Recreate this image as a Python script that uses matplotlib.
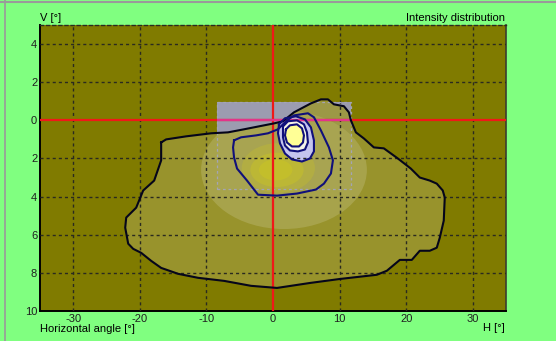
import matplotlib
matplotlib.use("Agg")
import matplotlib.pyplot as plt
from matplotlib.patches import Polygon, Rectangle, Ellipse
from matplotlib.lines import Line2D

# --- axis ticks ---------------------------------------------------------
h_ticks = [-30, -20, -10, 0, 10, 20, 30]
h_tick_labels = ["-30", "-20", "-10", "0", "10", "20", "30"]
v_ticks = [4, 2, 0, -2, -4, -6, -8, -10]
v_tick_labels = ["4", "2", "0", "2", "4", "6", "8", "10"]

# --- isolines (H [deg], V [deg]) ---------------------------------------
outer_h = [-16.8, -16.05, -13.05, -9.3, -6.75, -4.35, 0.15, 1.5, 3.15, 5.7, 7.2, 8.25,
           9.15, 10.65, 11.4, 11.7, 12.45, 13.65, 15.15, 16.65, 18.75, 20.7, 22.05,
           23.55, 24.6, 25.5, 25.8, 25.65, 25.05, 24.6, 23.55, 22.05, 20.85, 19.05,
           17.1, 15.6, 10.05, 5.55, 0.6, -3.3, -7.35, -11.25, -14.25, -16.8, -18.3,
           -19.8, -21.0, -21.75, -22.2, -22.05, -20.55, -19.5, -17.85, -16.8, -16.8]
outer_v = [-1.16, -1.0, -0.84, -0.68, -0.63, -0.47, -0.16, -0.05, 0.42, 0.89, 1.1, 1.1,
           0.84, 0.74, 0.42, 0.0, -0.63, -0.95, -1.42, -1.47, -2.0, -2.53, -3.0,
           -3.16, -3.32, -3.68, -4.05, -5.26, -6.16, -6.68, -6.84, -6.84, -7.32, -7.32,
           -7.89, -8.1, -8.32, -8.53, -8.79, -8.68, -8.42, -8.26, -8.05, -7.74, -7.37,
           -6.95, -6.74, -6.47, -5.63, -5.1, -4.58, -3.68, -3.16, -2.1, -1.47]

iso2_h = [-5.85, -4.8, -2.55, -0.75, 0.75, 1.95, 3.15, 5.25, 6.15, 7.2, 8.4, 9.0, 8.7,
          7.65, 6.45, 3.6, 0.6, -2.25, -3.9, -5.4, -5.85, -6.0]
iso2_v = [-1.05, -0.89, -0.79, -0.68, -0.47, -0.05, 0.26, 0.37, 0.16, -0.53, -1.42,
          -2.1, -2.79, -3.32, -3.63, -3.84, -3.95, -3.9, -3.16, -2.53, -1.95, -1.42]

iso3_h = [0.9, 1.8, 3.45, 4.8, 5.7, 6.15, 6.15, 5.55, 4.35, 2.85, 1.8, 1.05, 0.75]
iso3_v = [-0.21, 0.11, 0.21, 0.05, -0.37, -1.05, -1.63, -2.0, -2.16, -2.05, -1.74,
          -1.21, -0.68]

iso4_h = [1.5, 2.25, 3.6, 4.65, 5.1, 5.25, 4.8, 3.75, 2.55, 1.8, 1.5]
iso4_v = [-0.32, -0.05, 0.0, -0.21, -0.63, -1.16, -1.53, -1.63, -1.58, -1.32, -0.89]

iso5_h = [1.95, 2.55, 3.6, 4.35, 4.65, 4.5, 3.9, 2.85, 2.1, 1.8]
iso5_v = [-0.47, -0.26, -0.21, -0.42, -0.79, -1.16, -1.37, -1.37, -1.16, -0.79]

# measured window
window_h = [-8.4, 11.7]
window_v = [-3.6, 0.95]

# --- colours ------------------------------------------------------------
FIG_BG = "#80ff80"
AX_BG = "#807b00"
GRID = "#2a2a20"
RED = "#f01818"
NAVY = "#10107a"

fig = plt.figure(figsize=(5.56, 3.41), dpi=100)
fig.patch.set_facecolor(FIG_BG)
ax = fig.add_axes([40 / 556, 30 / 341, 466 / 556, 286 / 341])
ax.set_facecolor(AX_BG)
ax.set_xlim(-35, 35)
ax.set_ylim(-10, 5)

# measured window (grey)
win = Rectangle((window_h[0], window_v[0]), window_h[1] - window_h[0],
                window_v[1] - window_v[0], facecolor="#9c9cb0", edgecolor="none",
                zorder=1)
ax.add_patch(win)

# isoline fills
outer = Polygon(list(zip(outer_h, outer_v)), closed=True, facecolor="#9d9834",
                edgecolor="none", alpha=0.85, zorder=2)
ax.add_patch(outer)

light = Ellipse((1.65, -2.6), 24.9, 6.2, facecolor="#ada956", edgecolor="none",
                alpha=0.75, zorder=3)
ax.add_patch(light)
light.set_clip_path(outer)

for (cx, cy, w, hgt, a) in [(0.8, -2.5, 11, 2.6, 0.25), (0.6, -2.6, 8, 1.8, 0.35),
                            (0.4, -2.6, 5, 1.1, 0.4)]:
    glow = Ellipse((cx, cy), w, hgt, facecolor="#d0ca1c", edgecolor="none",
                   alpha=a, zorder=3)
    ax.add_patch(glow)
    glow.set_clip_path(outer)

ax.add_patch(Polygon(list(zip(iso3_h, iso3_v)), closed=True, facecolor="#c4c4ee",
                     edgecolor="none", zorder=4))
ax.add_patch(Polygon(list(zip(iso4_h, iso4_v)), closed=True, facecolor="#f4f4e8",
                     edgecolor="none", zorder=4))
ax.add_patch(Polygon(list(zip(iso5_h, iso5_v)), closed=True, facecolor="#ffff96",
                     edgecolor="none", zorder=4))

# dashed grid
dash = (0, (2.2, 2.2))
for x in h_ticks:
    if x != 0:
        ax.axvline(x, color=GRID, lw=1.0, ls=dash, zorder=5)
for y in v_ticks:
    if y not in (0, -10):
        ax.axhline(y, color=GRID, lw=1.0, ls=dash, zorder=5)

# window outline
ax.add_patch(Rectangle((window_h[0], window_v[0]), window_h[1] - window_h[0],
                       window_v[1] - window_v[0], facecolor="none",
                       edgecolor="#a4a4b4", lw=0.9, ls=dash, zorder=5))

# axis cross
ax.axvline(0, color=RED, lw=1.6, zorder=6)
ax.axhline(0, color=RED, lw=1.6, zorder=6)
ax.plot(window_h, [0, 0], color="#e4348a", lw=1.6, zorder=6, solid_capstyle="butt")

# isolines
def closed(h, v):
    return list(h) + [h[0]], list(v) + [v[0]]

hx, vy = closed(outer_h, outer_v)
ax.plot(hx, vy, color="#05051a", lw=1.5, zorder=7)
for h, v in [(iso2_h, iso2_v), (iso3_h, iso3_v), (iso4_h, iso4_v), (iso5_h, iso5_v)]:
    hx, vy = closed(h, v)
    ax.plot(hx, vy, color=NAVY, lw=1.5, zorder=7)

# frame
for s in ("left", "bottom"):
    ax.spines[s].set_color("#000000")
    ax.spines[s].set_linewidth(1.4)
ax.spines["right"].set_color("#3c3c30")
ax.spines["right"].set_linewidth(1.2)
ax.spines["top"].set_color(GRID)
ax.spines["top"].set_linewidth(1.0)
ax.spines["top"].set_linestyle(dash)

FONT = "Liberation Sans"
FS = 8
ax.set_xticks(h_ticks)
ax.set_xticklabels(h_tick_labels, fontsize=FS, family=FONT, color="#202020")
ax.set_yticks(v_ticks)
ax.set_yticklabels(v_tick_labels, fontsize=FS, family=FONT, color="#202020")
ax.tick_params(length=0, pad=2)

fig.text(40 / 556, 1 - 18 / 341, "V [°]", fontsize=FS, family=FONT, va="center",
         ha="left")
fig.text(505 / 556, 1 - 18 / 341, "Intensity distribution", fontsize=FS, family=FONT,
         va="center", ha="right")
fig.text(40 / 556, 1 - 329 / 341, "Horizontal angle [°]", fontsize=FS, family=FONT,
         va="center", ha="left")
fig.text(505 / 556, 1 - 328 / 341, "H [°]", fontsize=FS, family=FONT, va="center",
         ha="right")

# window edge of the viewer
fig.add_artist(Line2D([0, 1], [1 - 2 / 341, 1 - 2 / 341], color="#9a9a9a", lw=1.5))
fig.add_artist(Line2D([5 / 556, 5 / 556], [0, 1], color="#9a9a9a", lw=1.2))

fig.savefig("out.png", dpi=100, facecolor=FIG_BG)
